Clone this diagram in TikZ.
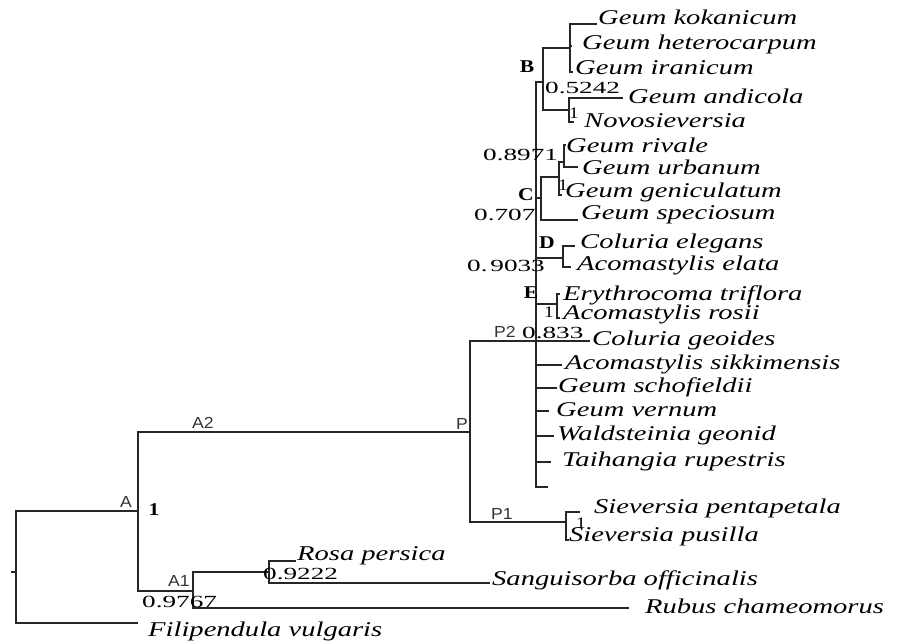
\documentclass[tikz,border=0pt]{standalone}
\usepackage{fontspec}
\newfontfamily\taxf[FakeStretch=1.36]{Liberation Serif}
\newfontfamily\numf[FakeStretch=1.6]{Liberation Serif}
\newfontfamily\clf[FakeStretch=1.2]{Liberation Serif}
\newfontfamily\sanf[FakeStretch=1.1]{Liberation Sans}
\begin{document}
\begin{tikzpicture}[x=1pt,y=-1pt,
  br/.style={draw=black!85,line width=1.3pt},
  tx/.style={anchor=west,inner sep=0pt,font={\taxf\itshape\fontsize{21}{21}\selectfont}},
  nm/.style={anchor=west,inner sep=0pt,font={\numf\fontsize{17}{17}\selectfont}},
  one/.style={inner sep=0pt,font={\clf\fontsize{16}{16}\selectfont}},
  cl/.style={inner sep=0pt,font={\clf\bfseries\fontsize{18}{18}\selectfont}},
  sl/.style={inner sep=0pt,font={\sanf\fontsize{16}{16}\selectfont},text=black!80}]
\useasboundingbox (0,0) rectangle (897,643);
% coordinates
\coordinate (rtk) at (11,572);
\coordinate (rt) at (16,572);
\coordinate (A) at (138,511);
\coordinate (fil) at (138,623);
\coordinate (P) at (470,432);
\coordinate (A1) at (193,591);
\coordinate (P2) at (536,341);
\coordinate (P1) at (566,522);
\coordinate (spe) at (580,512);
\coordinate (spu) at (569,540);
\coordinate (Ro) at (269,572);
\coordinate (rub) at (629,608);
\coordinate (ros) at (296,561);
\coordinate (san) at (490,583);
\coordinate (B) at (543,82);
\coordinate (Bu) at (570,48);
\coordinate (kok) at (597,24);
\coordinate (het) at (572,46);
\coordinate (ira) at (573,72);
\coordinate (Bl) at (569,110);
\coordinate (and) at (623,98);
\coordinate (nov) at (574,122);
\coordinate (C) at (541,198);
\coordinate (C1) at (559,177);
\coordinate (spc) at (578,220);
\coordinate (C2) at (564,162);
\coordinate (gen) at (562,195);
\coordinate (riv) at (566,145);
\coordinate (urb) at (578,167);
\coordinate (D) at (563,258);
\coordinate (ele) at (575,246);
\coordinate (ela) at (571,267);
\coordinate (E) at (557,304);
\coordinate (ery) at (560,294);
\coordinate (rsi) at (560,318);
\coordinate (geo) at (590,341);
\coordinate (sik) at (562,365);
\coordinate (sch) at (557,388);
\coordinate (ver) at (549,411);
\coordinate (wal) at (554,436);
\coordinate (tai) at (551,462);
\coordinate (bot) at (548,487);
% branches
\draw[br] (rtk) -- (rt);
\draw[br] (rt) |- (A);
\draw[br] (rt) |- (fil);
\draw[br] (A) |- (P);
\draw[br] (A) |- (A1);
\draw[br] (P) |- (P2);
\draw[br] (P) |- (P1);
\draw[br] (P1) |- (spe);
\draw[br] (P1) |- (spu);
\draw[br] (A1) |- (Ro);
\draw[br] (A1) |- (rub);
\draw[br] (Ro) |- (ros);
\draw[br] (Ro) |- (san);
\draw[br] (P2) |- (B);
\draw[br] (B) |- (Bu);
\draw[br] (Bu) |- (kok);
\draw[br] (Bu) |- (het);
\draw[br] (Bu) |- (ira);
\draw[br] (B) |- (Bl);
\draw[br] (Bl) |- (and);
\draw[br] (Bl) |- (nov);
\draw[br] (P2) |- (C);
\draw[br] (C) |- (C1);
\draw[br] (C) |- (spc);
\draw[br] (C1) |- (C2);
\draw[br] (C1) |- (gen);
\draw[br] (C2) |- (riv);
\draw[br] (C2) |- (urb);
\draw[br] (P2) |- (D);
\draw[br] (D) |- (ele);
\draw[br] (D) |- (ela);
\draw[br] (P2) |- (E);
\draw[br] (E) |- (ery);
\draw[br] (E) |- (rsi);
\draw[br] (P2) -- (geo);
\draw[br] (P2) |- (sik);
\draw[br] (P2) |- (sch);
\draw[br] (P2) |- (ver);
\draw[br] (P2) |- (wal);
\draw[br] (P2) |- (tai);
\draw[br] (P2) |- (bot);
% taxa
\node[tx] (tkok) at (598,17) {Geum kokanicum};
\node[tx] (thet) at (582,44) {Geum heterocarpum};
\node[tx] (tira) at (575,68) {Geum iranicum};
\node[tx] (tand) at (628,96) {Geum andicola};
\node[tx] (tnov) at (584,121) {Novosieversia};
\node[tx] (triv) at (566,145) {Geum rivale};
\node[tx] (turb) at (582,167) {Geum urbanum};
\node[tx] (tgen) at (565,192) {Geum geniculatum};
\node[tx] (tspc) at (581,215) {Geum speciosum};
\node[tx] (tele) at (580,243) {Coluria elegans};
\node[tx] (tela) at (577,265) {Acomastylis elata};
\node[tx] (tery) at (563,295) {Erythrocoma triflora};
\node[tx] (trsi) at (563,314) {Acomastylis rosii};
\node[tx] (tgeo) at (592,340) {Coluria geoides};
\node[tx] (tsik) at (565,364) {Acomastylis sikkimensis};
\node[tx] (tsch) at (558,387) {Geum schofieldii};
\node[tx] (tver) at (556,410) {Geum vernum};
\node[tx] (twal) at (557,435) {Waldsteinia geonid};
\node[tx] (ttai) at (562,461) {Taihangia rupestris};
\node[tx] (tspe) at (594,508) {Sieversia pentapetala};
\node[tx] (tspu) at (569,536) {Sieversia pusilla};
\node[tx] (tros) at (297,556) {Rosa persica};
\node[tx] (tsan) at (492,580) {Sanguisorba officinalis};
\node[tx] (trub) at (645,606) {Rubus chameomorus};
\node[tx] (tfil) at (148,631) {Filipendula vulgaris};
% support values and clade labels
\node[cl] (lB) at (527,67) {B};
\node[nm] (n5242) at (545,88) {0.5242};
\node[one] (o1) at (574,113) {1};
\node[nm] (n8971) at (483,155) {0.8971};
\node[cl] (lC) at (526,195) {C};
\node[one] (o2) at (563,185) {1};
\node[nm] (n707) at (474,215) {0.707};
\node[cl] (lD) at (547,243) {D};
\node[nm] (n9033) at (467,266) {0.\,9033};
\node[cl] (lE) at (531,293) {E};
\node[one] (o3) at (549,312) {1};
\node[sl] (lP2) at (505,332) {P2};
\node[nm] (n833) at (522,333) {0.833};
\node[sl] (lP) at (462,424) {P};
\node[sl] (lA2) at (203,423) {A2};
\node[sl] (lP1) at (502,514) {P1};
\node[one] (o4) at (581,523) {1};
\node[sl] (lA) at (126,502) {A};
\node[cl] (oA) at (154,510) {1};
\node[sl] (lA1) at (179,581) {A1};
\node[nm] (n9767) at (142,602) {0.9767};
\node[nm] (n9222) at (263,574) {0.9222};
\end{tikzpicture}
\end{document}
